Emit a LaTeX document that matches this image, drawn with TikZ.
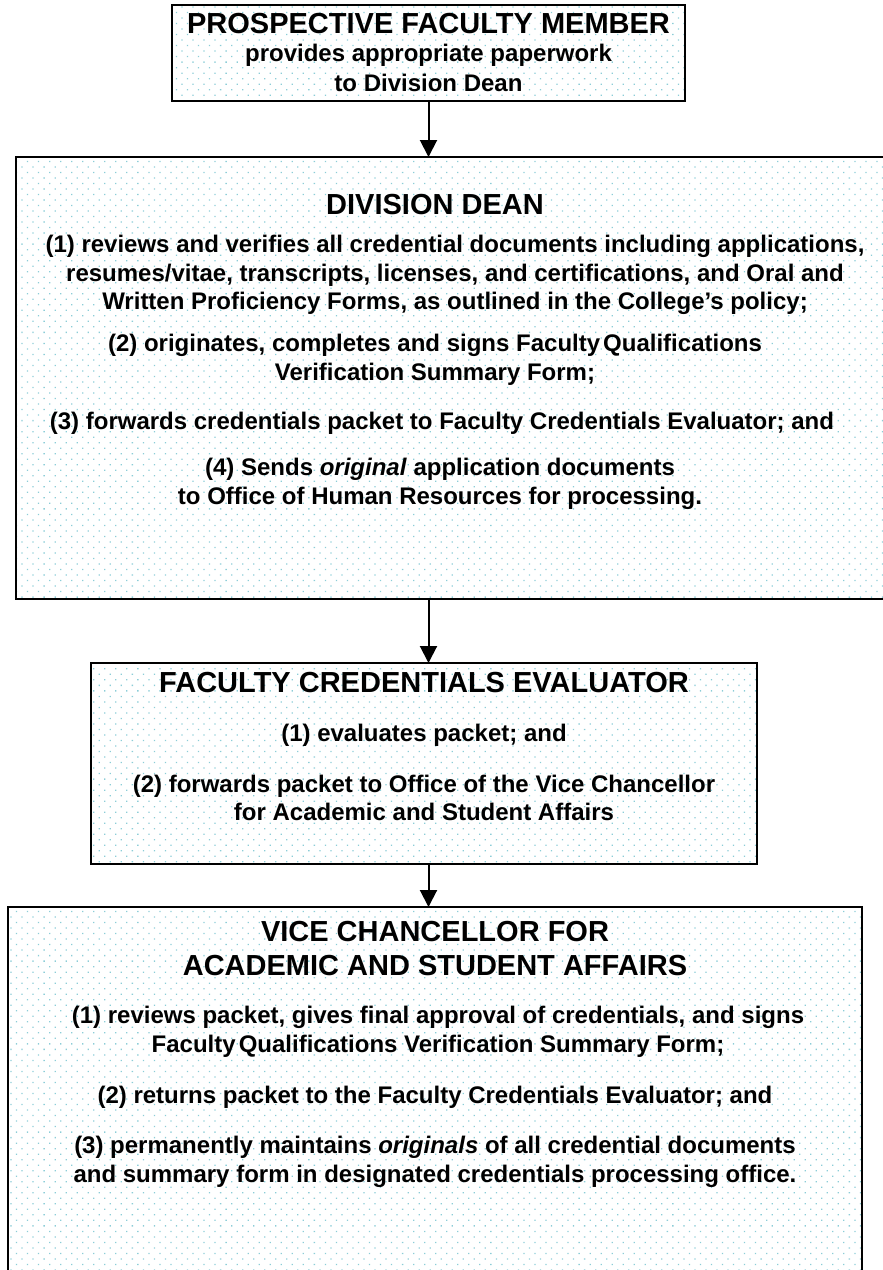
\documentclass[tikz,border=0pt]{standalone}
\usepackage{fontspec}
\setmainfont{Liberation Sans}
\usetikzlibrary{patterns.meta,arrows.meta}
\definecolor{dotc}{RGB}{140,205,215}
\begin{document}
\begin{tikzpicture}[x=1pt,y=-1pt,
  box/.style={draw=black, line width=2pt, inner sep=0pt, outer sep=0pt,
    pattern={Dots[distance=7.8pt,angle=45,radius=0.9pt]}, pattern color=dotc},
  ttl/.style={font=\fontsize{29}{34}\selectfont\bfseries, align=center, inner sep=0pt},
  txt/.style={font=\fontsize{24}{28.5}\selectfont\bfseries, align=center, inner sep=0pt},
  conn/.style={line width=2pt, -{Triangle[length=17pt,width=17pt]}}]
\useasboundingbox (0,0) rectangle (883,1270);
\clip (0,0) rectangle (883,1270);
% boxes
\node[box, minimum width=513pt, minimum height=96pt] (b1) at (428.5,53) {};
\node[box, minimum width=879pt, minimum height=442pt] (b2) at (455.5,378) {};
\node[box, minimum width=666pt, minimum height=201pt] (b3) at (424,763.5) {};
\node[box, minimum width=854pt, minimum height=373pt] (b4) at (435,1093.5) {};
% connectors
\draw[conn] (b1.south) -- (b1.south |- b2.north);
\draw[conn] (b2.south -| b1.south) -- (b1.south |- b3.north);
\draw[conn] (b3.south -| b1.south) -- (b1.south |- b4.north);
% box 1
\node[ttl] (t1) at (428.5,24) {PROSPECTIVE FACULTY MEMBER};
\node[txt, font=\fontsize{24}{30}\selectfont\bfseries] (p1) at (428.5,68) {provides appropriate paperwork\\to Division Dean};
% box 2
\node[ttl] (t2) at (435,205) {DIVISION DEAN};
\node[txt] (p21) at (455,275) {(1) reviews and verifies all credential documents including applications,\\resumes/vitae, transcripts, licenses, and certifications, and Oral and\\Written Proficiency Forms, as outlined in the College’s policy;};
\node[txt] (p22) at (435,360) {(2) originates, completes and signs Faculty\hspace{-0.15em} Qualifications\\Verification Summary Form;};
\node[txt] (p23) at (442,423) {(3) forwards credentials packet to Faculty Credentials Evaluator; and};
\node[txt] (p24) at (440,484) {(4) Sends \textit{original} application documents\\to Office of Human Resources for processing.};
% box 3
\node[ttl] (t3) at (424,683) {FACULTY CREDENTIALS EVALUATOR};
\node[txt] (p31) at (424,735) {(1) evaluates packet; and};
\node[txt] (p32) at (424,798) {(2) forwards packet to Office of the Vice Chancellor\\for Academic and Student Affairs};
% box 4
\node[ttl] (t4) at (435,948.5) {VICE CHANCELLOR FOR\\ACADEMIC AND STUDENT AFFAIRS};
\node[txt] (p41) at (438,1032) {(1) reviews packet, gives final approval of credentials, and signs\\Faculty\hspace{-0.15em} Qualifications Verification Summary Form;};
\node[txt] (p42) at (435,1097) {(2) returns packet to the Faculty Credentials Evaluator; and};
\node[txt] (p43) at (435,1162) {(3) permanently maintains \textit{originals} of all credential documents\\and summary form in designated credentials processing office.};
\end{tikzpicture}
\end{document}
